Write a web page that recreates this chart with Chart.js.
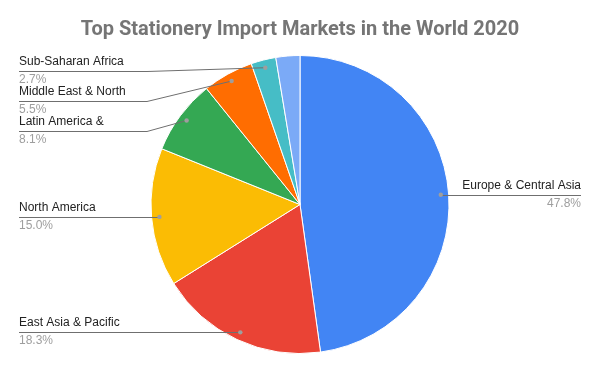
<!DOCTYPE html>
<html>
<head>
<meta charset="utf-8">
<script src="https://cdn.jsdelivr.net/npm/chart.js@4/dist/chart.umd.min.js"></script>
<style>
html,body{margin:0;padding:0;background:#fff;}
#wrap{width:600px;height:371px;position:relative;}
</style>
</head>
<body>
<div id="wrap"><canvas id="c" width="600" height="371"></canvas></div>
<script>
const titleText = "Top Stationery Import Markets in the World 2020";
const categories = ["Europe & Central Asia", "East Asia & Pacific", "North America", "Latin America &", "Middle East & North", "Sub-Saharan Africa", "South Asia"];
const values = [47.8, 18.3, 15.0, 8.1, 5.5, 2.7, 2.6];
const percentLabels = ["47.8%", "18.3%", "15.0%", "8.1%", "5.5%", "2.7%", ""];
const showLabel = [true, true, true, true, true, true, false];
const colors = ["#4285F4", "#EA4335", "#FBBC04", "#34A853", "#FF6D01", "#46BDC6", "#7BAAF7"];

const labelPlugin = {
  id: 'leaderLabels',
  afterDraw(chart) {
    const ctx = chart.ctx;
    const meta = chart.getDatasetMeta(0);
    const items = [];
    meta.data.forEach((arc, i) => {
      if (!showLabel[i]) return;
      const p = arc.getProps(['x','y','startAngle','endAngle','outerRadius'], true);
      const mid = (p.startAngle + p.endAngle) / 2;
      const r = p.outerRadius * 0.947;
      const dx = p.x + Math.cos(mid) * r;
      const dy = p.y + Math.sin(mid) * r;
      items.push({i, dx, dy, right: dx > p.x});
    });
    const left = items.filter(o => !o.right).sort((a,b) => a.dy - b.dy);
    const right = items.filter(o => o.right).sort((a,b) => a.dy - b.dy);
    let prev = -1e9;
    left.forEach(o => { o.ly = Math.max(o.dy, prev + 30, 71); prev = o.ly; });
    prev = -1e9;
    right.forEach(o => { o.ly = Math.max(o.dy, prev + 30, 71); prev = o.ly; });
    ctx.save();
    items.forEach(o => {
      const textX = o.right ? 581 : 19;
      ctx.strokeStyle = '#6f6f6f';
      ctx.lineWidth = 1;
      ctx.beginPath();
      if (Math.abs(o.ly - o.dy) < 1.5) {
        ctx.moveTo(textX, Math.round(o.dy) + 0.5);
        ctx.lineTo(o.dx, Math.round(o.dy) + 0.5);
      } else {
        const bendX = o.right ? 453 : 147;
        ctx.moveTo(textX, Math.round(o.ly) + 0.5);
        ctx.lineTo(bendX, Math.round(o.ly) + 0.5);
        ctx.lineTo(o.dx, o.dy);
      }
      ctx.stroke();
      ctx.fillStyle = '#9e9e9e';
      ctx.beginPath();
      ctx.arc(o.dx, o.dy, 2.2, 0, Math.PI * 2);
      ctx.fill();
      const ly = Math.round(o.ly);
      ctx.textAlign = o.right ? 'right' : 'left';
      ctx.textBaseline = 'middle';
      ctx.font = '12px "Liberation Sans", Arial, sans-serif';
      ctx.fillStyle = '#222222';
      ctx.fillText(categories[o.i], textX, ly - 9);
      ctx.fillStyle = '#9e9e9e';
      ctx.fillText(percentLabels[o.i], textX, ly + 9);
    });
    ctx.restore();
  }
};

new Chart(document.getElementById('c'), {
  type: 'pie',
  data: {
    labels: categories,
    datasets: [{
      data: values,
      backgroundColor: colors,
      borderColor: '#ffffff',
      borderWidth: 1,
      hoverOffset: 0
    }]
  },
  options: {
    responsive: false,
    animation: false,
    layout: { padding: { top: 0, bottom: 17, left: 20, right: 20 } },
    plugins: {
      legend: { display: false },
      tooltip: { enabled: false },
      title: {
        display: true,
        text: titleText,
        color: '#757575',
        font: { family: 'Roboto', size: 20, weight: 'bold' },
        padding: { top: 18, bottom: 13 }
      }
    }
  },
  plugins: [labelPlugin]
});
</script>
</body>
</html>
